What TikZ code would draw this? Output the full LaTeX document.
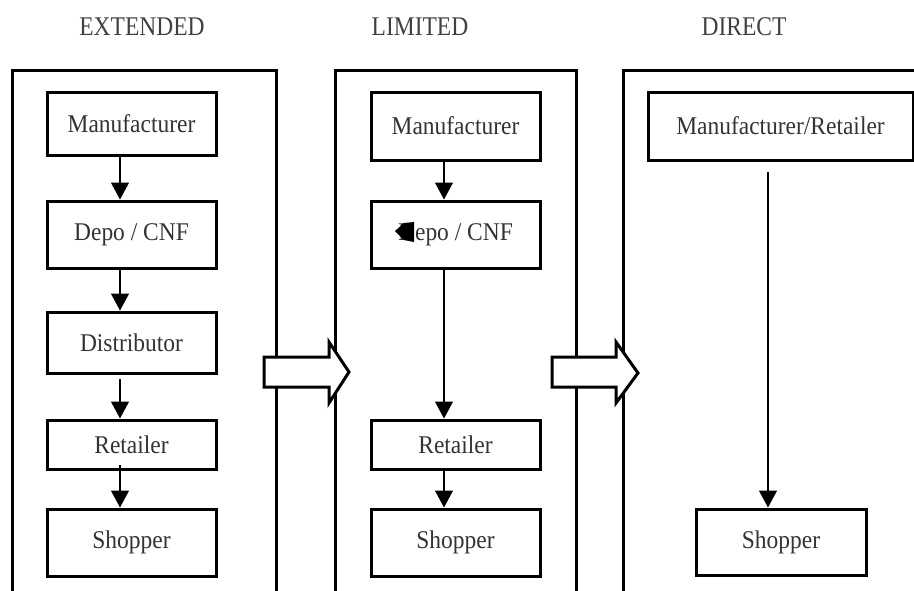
\documentclass[tikz,border=0pt]{standalone}
\usepackage{fontspec}
\setmainfont{Liberation Serif}
\newfontfamily\boxfont[FakeStretch=0.92]{Liberation Serif}
\newfontfamily\titlefont[FakeStretch=0.87]{Liberation Serif}
\usetikzlibrary{arrows.meta,calc}
\begin{document}
\begin{tikzpicture}[x=1pt,y=-1pt,
  panel/.style={line width=3pt},
  box/.style={draw,line width=3pt,inner sep=0pt,font=\boxfont\fontsize{25.5}{28}\selectfont,text=black!80},
  title/.style={font=\titlefont\fontsize{27}{30}\selectfont,text=black!75},
  arr/.style={line width=1.3pt,-{Triangle[width=18pt,length=17pt]}},
  blockarrow/.style={draw,fill=white,line width=3pt,line join=miter}]
\useasboundingbox (0,0) rectangle (914,590);
\begin{scope}
\clip (0,0) rectangle (914,590);
% titles
\node[title] (t1) at (142,27) {EXTENDED};
\node[title] (t2) at (420,27) {LIMITED};
\node[title] (t3) at (744,27) {DIRECT};
% panels (open at bottom)
\draw[panel] (12,600) -- (12,70) -- (276,70) -- (276,600);
\draw[panel] (335,600) -- (335,70) -- (576,70) -- (576,600);
\draw[panel] (623,600) -- (623,70) -- (930,70);
% panel 1 boxes
\node[box,minimum width=169,minimum height=63] (m1) at (131.5,123.5) {Manufacturer};
\node[box,minimum width=169,minimum height=67] (d1) at (131.5,234.5) {Depo / CNF};
\node[box,minimum width=169,minimum height=61] (s1) at (131.5,342.5) {Distributor};
\node[box,minimum width=169,minimum height=49] (r1) at (131.5,444.5) {Retailer};
\node[box,minimum width=169,minimum height=67] (p1) at (131.5,542.5) {Shopper};
\coordinate (ax1) at (120,0);
\draw[arr] (m1.south -| ax1) -- (d1.north -| ax1);
\draw[arr] (d1.south -| ax1) -- (s1.north -| ax1);
\draw[arr] ($(s1.south -| ax1)+(0,4)$) -- (r1.north -| ax1);
\draw[arr] ($(r1.south -| ax1)+(0,-6)$) -- (p1.north -| ax1);
% panel 2 boxes
\node[box,minimum width=169,minimum height=68] (m2) at (455.5,126) {Manufacturer};
\node[box,minimum width=169,minimum height=67] (d2) at (455.5,234.5) {Depo / CNF};
\node[box,minimum width=169,minimum height=49] (r2) at (455.5,444.5) {Retailer};
\node[box,minimum width=169,minimum height=67] (p2) at (455.5,542.5) {Shopper};
\coordinate (ax2) at (444,0);
\draw[arr] (m2.south -| ax2) -- (d2.north -| ax2);
\draw[arr] (d2.south -| ax2) -- (r2.north -| ax2);
\draw[arr] (r2.south -| ax2) -- (p2.north -| ax2);
% stray blob over the D
\fill (414,222) -- (404,223) -- (395,231) -- (404,240) -- (414,242) -- cycle;
% panel 3 boxes
\node[box,minimum width=265,minimum height=68] (m3) at (780.5,126) {Manufacturer/Retailer};
\node[box,minimum width=170,minimum height=66] (p3) at (781,542) {Shopper};
\coordinate (ax3) at (768,0);
\draw[arr] ($(m3.south -| ax3)+(0,10)$) -- (p3.north -| ax3);
% block arrows
\draw[blockarrow] (264,357) -- (329,357) -- (329,342) -- (349,372) -- (329,403) -- (329,387) -- (264,387) -- cycle;
\draw[blockarrow] (552,357) -- (616,357) -- (616,342) -- (638,373) -- (616,403) -- (616,387) -- (552,387) -- cycle;
\end{scope}
\end{tikzpicture}
\end{document}
